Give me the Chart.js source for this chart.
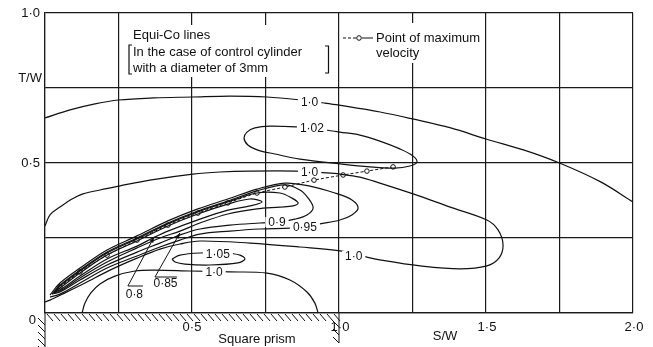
<!DOCTYPE html>
<html><head><meta charset="utf-8">
<script src="https://cdn.jsdelivr.net/npm/chart.js@4"></script>
<style>html,body{margin:0;padding:0;background:#fff}canvas{display:block}</style>
</head><body>
<canvas id="c" width="653" height="347"></canvas>
<script>
// Equi-Co lines around a square prism: x = S/W, y = T/W
const c100Upper = [[0,0.65],[0.085,0.677],[0.17,0.697],[0.25,0.71],[0.37,0.717],[0.5,0.72],[0.63,0.723],[0.755,0.72],[0.87,0.71],[0.95,0.70],[1.0,0.693],[1.14,0.67],[1.25,0.647],[1.38,0.617],[1.5,0.58],[1.63,0.543],[1.75,0.5],[1.89,0.437],[2.0,0.37]];
const c102Loop = [[0.867,0.62],[0.765,0.623],[0.714,0.617],[0.687,0.603],[0.677,0.583],[0.69,0.56],[0.724,0.543],[0.782,0.53],[0.867,0.513],[1.003,0.497],[1.105,0.487],[1.19,0.483],[1.241,0.49],[1.265,0.503],[1.252,0.523],[1.207,0.547],[1.139,0.573],[1.071,0.593],[1.003,0.603],[0.952,0.61],[0.867,0.62]];
const c100Middle = [[0,0.29],[0.017,0.327],[0.051,0.353],[0.092,0.38],[0.129,0.397],[0.187,0.41],[0.252,0.423],[0.357,0.443],[0.503,0.463],[0.595,0.47],[0.697,0.473],[0.854,0.473],[0.956,0.467],[1.003,0.463],[1.071,0.453],[1.139,0.433],[1.252,0.397],[1.378,0.353],[1.503,0.31],[1.541,0.277],[1.558,0.227],[1.544,0.183],[1.503,0.157],[1.412,0.147],[1.276,0.157],[1.139,0.177],[1.092,0.187],[1.003,0.207],[0.867,0.22],[0.697,0.233],[0.527,0.24],[0.459,0.23],[0.391,0.213],[0.313,0.183],[0.221,0.143],[0.136,0.10],[0.068,0.067],[0.017,0.043],[0,0.037]];
const c100Arch = [[0.126,0],[0.136,0.033],[0.156,0.067],[0.187,0.097],[0.238,0.123],[0.306,0.14],[0.374,0.143],[0.493,0.14],[0.629,0.137],[0.755,0.133],[0.833,0.11],[0.891,0.07],[0.918,0.033],[0.929,0]];
const c105Loop = [[0.432,0.18],[0.459,0.193],[0.527,0.2],[0.612,0.2],[0.663,0.193],[0.68,0.18],[0.656,0.167],[0.561,0.16],[0.476,0.163],[0.442,0.17],[0.432,0.18]];
const c095Loop = [[0.017,0.06],[0.051,0.10],[0.119,0.15],[0.211,0.21],[0.313,0.257],[0.418,0.307],[0.52,0.347],[0.622,0.38],[0.721,0.413],[0.816,0.433],[0.901,0.423],[0.986,0.40],[1.044,0.377],[1.065,0.35],[1.044,0.327],[1.003,0.31],[0.935,0.297],[0.884,0.287],[0.833,0.283],[0.731,0.28],[0.629,0.273],[0.527,0.263],[0.459,0.243],[0.391,0.22],[0.313,0.19],[0.211,0.15],[0.119,0.10],[0.051,0.063],[0.017,0.053]];
const c090Loop = [[0.024,0.063],[0.051,0.093],[0.119,0.143],[0.211,0.203],[0.313,0.25],[0.418,0.30],[0.52,0.34],[0.622,0.373],[0.721,0.407],[0.816,0.427],[0.867,0.41],[0.895,0.383],[0.912,0.35],[0.891,0.327],[0.85,0.313],[0.789,0.303],[0.731,0.30],[0.629,0.293],[0.527,0.28],[0.459,0.26],[0.391,0.233],[0.313,0.203],[0.211,0.16],[0.119,0.11],[0.051,0.07],[0.024,0.063]];
const c085Loop = [[0.031,0.067],[0.051,0.09],[0.119,0.14],[0.211,0.20],[0.313,0.247],[0.418,0.297],[0.52,0.337],[0.622,0.37],[0.721,0.40],[0.799,0.40],[0.84,0.383],[0.861,0.367],[0.844,0.357],[0.799,0.353],[0.721,0.347],[0.622,0.33],[0.527,0.30],[0.459,0.273],[0.391,0.25],[0.313,0.217],[0.211,0.17],[0.119,0.117],[0.051,0.073],[0.031,0.067]];
const c080Loop = [[0.031,0.07],[0.051,0.083],[0.119,0.133],[0.211,0.193],[0.313,0.24],[0.418,0.29],[0.52,0.33],[0.622,0.363],[0.697,0.38],[0.738,0.37],[0.697,0.357],[0.622,0.343],[0.527,0.313],[0.418,0.273],[0.367,0.25],[0.313,0.223],[0.211,0.18],[0.119,0.123],[0.051,0.077],[0.031,0.07]];
const maxVelocity = [[0.051,0.087],[0.119,0.137],[0.211,0.193],[0.313,0.243],[0.418,0.293],[0.52,0.333],[0.622,0.367],[0.721,0.40],[0.816,0.42],[0.915,0.443],[1.014,0.46],[1.095,0.473],[1.184,0.487]];
const leader080 = [[0.333,0.09],[0.282,0.09],[0.371,0.253]];
const leader085 = [[0.449,0.12],[0.374,0.12],[0.459,0.267]];
// contour values written on the lines: [text, S/W, T/W]
const contourLabels = [['1·0',0.90,0.703],['1·02',0.908,0.617],['1·0',0.90,0.47],['1·0',1.05,0.19],['0·9',0.789,0.303],['0·95',0.884,0.287],['1·05',0.588,0.197],['1·0',0.575,0.137]];
const leaderLabels = [['0·8',0.304,0.06],['0·85',0.41,0.097]];
const xTickValues = [0.5,1.0,1.5,2.0];
const xTickLabels = ['0·5','1·0','1·5','2·0'];
const yTickValues = [1.0,0.5,0];
const yTickLabels = ['1·0','0·5','0'];

const FONT = '"Liberation Sans", Arial, sans-serif';
const INK = '#111';
const toXY = a => a.map(p => ({x: p[0], y: p[1]}));
const line = (pts, extra) => Object.assign({
  data: toXY(pts), showLine: true, pointRadius: 0, borderColor: INK,
  borderWidth: 1.2, tension: 0.35, fill: false
}, extra || {});

const decor = {
  id: 'decor',
  beforeDatasetsDraw(chart) {
    const ctx = chart.ctx;
    ctx.save();
    ctx.fillStyle = '#fff';
    ctx.fillRect(122, 25, 214, 52);
    ctx.fillRect(342, 23, 143, 40);
    ctx.restore();
  },
  afterDatasetsDraw(chart) {
    const ctx = chart.ctx, xs = chart.scales.x, ys = chart.scales.y;
    const px = v => xs.getPixelForValue(v), py = v => ys.getPixelForValue(v);
    ctx.save();
    ctx.fillStyle = INK; ctx.strokeStyle = INK;
    ctx.textBaseline = 'middle';

    // values on the contour lines
    ctx.font = '12px ' + FONT; ctx.textAlign = 'center';
    contourLabels.forEach(([t, x, y]) => {
      const X = px(x), Y = py(y), w = ctx.measureText(t).width;
      ctx.fillStyle = '#fff'; ctx.fillRect(X - w / 2 - 3, Y - 5, w + 6, 10);
      ctx.fillStyle = INK; ctx.fillText(t, X, Y + 0.5);
    });
    leaderLabels.forEach(([t, x, y]) => ctx.fillText(t, px(x), py(y)));

    // arrow heads on the leaders
    [leader080, leader085].forEach(L => {
      const a = L[L.length - 2], b = L[L.length - 1];
      const x1 = px(a[0]), y1 = py(a[1]), x2 = px(b[0]), y2 = py(b[1]);
      const ang = Math.atan2(y2 - y1, x2 - x1);
      ctx.beginPath();
      ctx.moveTo(x2, y2);
      ctx.lineTo(x2 - 6 * Math.cos(ang - 0.35), y2 - 6 * Math.sin(ang - 0.35));
      ctx.lineTo(x2 - 6 * Math.cos(ang + 0.35), y2 - 6 * Math.sin(ang + 0.35));
      ctx.closePath(); ctx.fill();
    });

    // axis numbers
    ctx.font = '13px ' + FONT;
    xTickValues.forEach((v, i) => ctx.fillText(xTickLabels[i], px(v) + (v > 0.9 ? 1 : 0), 327));
    ctx.textAlign = 'right';
    yTickValues.forEach((v, i) => ctx.fillText(yTickLabels[i], v === 0 ? 36 : 40, py(v) + (v === 0 ? 7 : 0)));
    ctx.fillText('T/W', 42, 78);
    ctx.textAlign = 'center';
    ctx.fillText('S/W', 445, 336);
    ctx.fillText('Square prism', 257, 339);

    // title block
    ctx.textAlign = 'left';
    ctx.fillText('Equi-Co lines', 133, 35);
    ctx.fillText('In the case of control cylinder', 133, 52);
    ctx.fillText('with a diameter of 3mm', 133, 68);
    ctx.lineWidth = 1.2;
    ctx.beginPath();
    ctx.moveTo(132, 45); ctx.lineTo(129, 45); ctx.lineTo(129, 74); ctx.lineTo(132, 74);
    ctx.moveTo(325, 46); ctx.lineTo(328.5, 46); ctx.lineTo(328.5, 73); ctx.lineTo(325, 73);
    ctx.stroke();

    // key for the maximum-velocity line
    ctx.lineWidth = 1;
    ctx.setLineDash([3, 2]);
    ctx.beginPath(); ctx.moveTo(343, 38); ctx.lineTo(356, 38); ctx.stroke();
    ctx.setLineDash([]);
    ctx.beginPath(); ctx.moveTo(362, 38); ctx.lineTo(373, 38); ctx.stroke();
    ctx.beginPath(); ctx.arc(359, 38, 2.3, 0, Math.PI * 2);
    ctx.fillStyle = '#fff'; ctx.fill(); ctx.stroke();
    ctx.fillStyle = INK;
    ctx.fillText('Point of maximum', 376, 38);
    ctx.fillText('velocity', 376, 53);

    // hatched prism face under the axis, from S/W = 0 to 1.0
    const x0 = px(0), x1 = px(1), yb = py(0);
    ctx.lineWidth = 1;
    ctx.beginPath();
    for (let x = x0 + 2; x < x1 - 2; x += 7) { ctx.moveTo(x, yb + 1); ctx.lineTo(x + 6, yb + 8); }
    ctx.moveTo(x0, yb); ctx.lineTo(x0, 347);
    for (let y = yb + 5; y < 347; y += 7) { ctx.moveTo(x0 - 7, y); ctx.lineTo(x0, y + 7); }
    ctx.moveTo(x1, yb); ctx.lineTo(x1, yb + 30);
    for (let y = yb + 8; y < yb + 30; y += 8) { ctx.moveTo(x1 - 6, y); ctx.lineTo(x1, y + 6); }
    ctx.stroke();
    ctx.restore();
  }
};

new Chart(document.getElementById('c'), {
  type: 'scatter',
  data: {
    datasets: [
      line(c100Upper), line(c102Loop), line(c100Middle), line(c100Arch), line(c105Loop),
      line(c095Loop), line(c090Loop), line(c085Loop), line(c080Loop),
      line(leader080, {tension: 0, borderWidth: 1}), line(leader085, {tension: 0, borderWidth: 1}),
      line(maxVelocity, {tension: 0.2, borderWidth: 1, borderDash: [3, 2], pointRadius: 2.3,
        pointBackgroundColor: '#fff', pointBorderColor: INK, pointBorderWidth: 1})
    ]
  },
  options: {
    responsive: false, animation: false, events: [],
    layout: {padding: {left: 45, top: 13, right: 20, bottom: 34}},
    plugins: {legend: {display: false}, tooltip: {enabled: false}},
    scales: {
      x: {type: 'linear', min: 0, max: 2, ticks: {display: false, stepSize: 0.25},
          grid: {color: '#1a1a1a', lineWidth: 1.2, drawTicks: false}, border: {color: '#1a1a1a', width: 1.2}},
      y: {type: 'linear', min: 0, max: 1, ticks: {display: false, stepSize: 0.25},
          grid: {color: '#1a1a1a', lineWidth: 1.2, drawTicks: false}, border: {color: '#1a1a1a', width: 1.2}}
    }
  },
  plugins: [decor]
});
</script>
</body></html>
